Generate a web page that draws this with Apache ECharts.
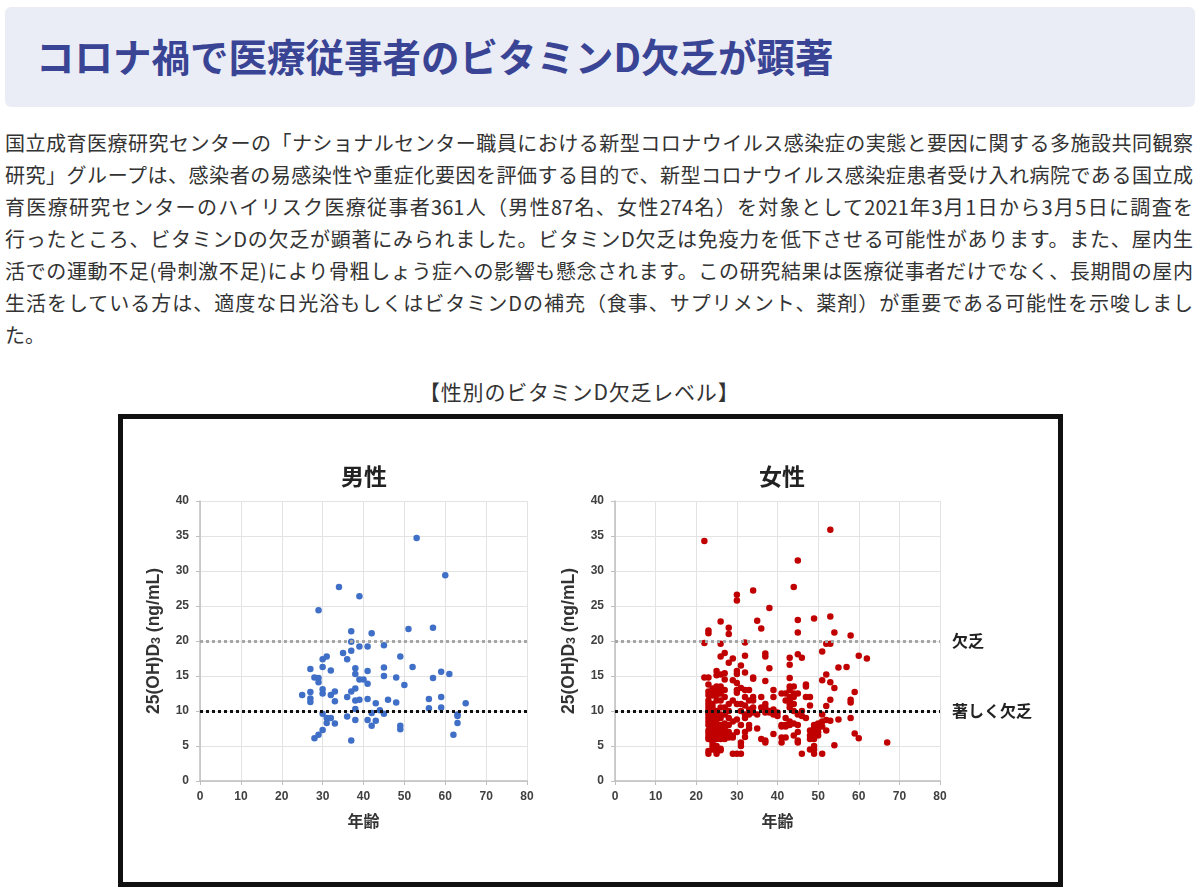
<!DOCTYPE html>
<html lang="ja">
<head>
<meta charset="utf-8">
<title>コロナ禍で医療従事者のビタミンD欠乏が顕著</title>
<script src="https://cdn.jsdelivr.net/npm/echarts@6.0.0/dist/echarts.min.js"></script>
<style>
html,body{margin:0;padding:0;background:#fff;}
body{width:1200px;height:896px;position:relative;overflow:hidden;font-family:"Noto Sans CJK JP","Noto Sans",sans-serif;color:#333;}
.head{position:absolute;left:5px;top:7px;width:1190px;height:100px;background:#eaecf6;border-radius:6px;}
.head h1{margin:0;position:absolute;left:31px;top:0;line-height:96px;font-size:38.5px;font-weight:bold;color:#3a4495;}
.txt{position:absolute;left:5px;top:127px;width:1188px;font-size:20px;line-height:32px;}
.txt div{text-align:justify;text-align-last:justify;}
.txt div.last{text-align-last:left;}
.cap{position:absolute;left:419px;top:375px;font-size:21px;letter-spacing:0.8px;line-height:32px;}
.frame{position:absolute;left:118px;top:414px;width:945px;height:473px;box-sizing:border-box;border:5px solid #111;}
#main{position:absolute;left:0;top:0;width:1200px;height:896px;}
</style>
</head>
<body>
<div class="head"><h1>コロナ禍で医療従事者のビタミンD欠乏が顕著</h1></div>
<div class="txt">
<div>国立成育医療研究センターの「ナショナルセンター職員における新型コロナウイルス感染症の実態と要因に関する多施設共同観察</div>
<div>研究」グループは、感染者の易感染性や重症化要因を評価する目的で、新型コロナウイルス感染症患者受け入れ病院である国立成</div>
<div>育医療研究センターのハイリスク医療従事者361人（男性87名、女性274名）を対象として2021年3月1日から3月5日に調査を</div>
<div>行ったところ、ビタミンDの欠乏が顕著にみられました。ビタミンD欠乏は免疫力を低下させる可能性があります。また、屋内生</div>
<div>活での運動不足(骨刺激不足)により骨粗しょう症への影響も懸念されます。この研究結果は医療従事者だけでなく、長期間の屋内</div>
<div>生活をしている方は、適度な日光浴もしくはビタミンDの補充（食事、サプリメント、薬剤）が重要である可能性を示唆しまし</div>
<div class="last">た。</div>
</div>
<div class="cap">【性別のビタミンD欠乏レベル】</div>
<div class="frame"></div>
<div id="main"></div>
<script>
// 男性 [年齢, 25(OH)D3]
var malePoints = [
  [53,34.7],[60,29.4],[34,27.7],[39,26.4],[29,24.4],[51,21.7],[57,21.9],[37,21.4],[42,21.1],
  [37,19.9],[39,19.2],[41,19.2],[45,19.4],[35,18.3],[37,18.6],[36,17.4],[30,17.4],[31,17.8],
  [49,17.8],[27,16.0],[30,16.3],[32,15.8],[38,16.1],[45,16.2],[52,16.3],[38,15.3],[41,15.7],
  [28,14.8],[29,14.7],[29,14.1],[39,14.5],[40,14.5],[45,15.0],[48,14.8],[57,14.7],[59,15.6],
  [61,15.3],[41,13.9],[50,13.7],[30,13.1],[27,12.7],[25,12.3],[30,12.5],[33,12.8],[32,12.3],
  [37,12.8],[38,13.2],[36,12.0],[27,11.8],[27,11.3],[33,11.4],[38,11.5],[39,11.6],[41,11.7],
  [43,11.1],[46,11.6],[48,11.2],[56,11.7],[59,12.0],[65,11.1],[38,10.3],[56,10.4],[59,10.5],
  [30,9.6],[42,9.7],[44,10.1],[45,9.6],[63,9.5],[63,9.3],[31,9.0],[32,9.0],[36,9.2],
  [38,8.7],[41,8.7],[43,8.6],[31,8.3],[33,8.2],[63,8.3],[42,7.9],[49,7.9],[49,7.4],
  [30,7.3],[29,6.6],[28,6.1],[62,6.6],[37,5.8]
];
// 女性 [年齢, 25(OH)D3]
var femalePoints = [
  [22,34.3],[22,19.7],[22,14.8],
  [23,21.5],[23,21.1],[23,14.8],[23,13.8],[23,12.8],[23,12.3],[23,11.5],[23,11.0],[23,10.5],[23,10.0],
  [23,9.5],[23,9.0],[23,8.5],[23,8.0],[23,7.2],[23,6.8],[23,6.3],[23,6.0],[23,4.3],[23,3.9],
  [24,13.2],[24,12.8],[24,12.2],[24,11.0],[24,10.5],[24,9.5],[24,9.0],[24,8.5],[24,8.0],[24,7.5],
  [24,7.0],[24,6.5],[24,6.0],[24,5.5],[24,5.0],[24,4.5],
  [25,15.7],[25,15.1],[25,13.5],[25,12.8],[25,12.3],[25,11.5],[25,10.0],[25,9.2],[25,8.7],[25,8.0],
  [25,7.2],[25,6.5],[25,6.0],[25,5.0],[25,4.2],[25,3.9],
  [26,22.8],[26,19.6],[26,17.8],[26,15.2],[26,13.5],[26,13.0],[26,12.5],[26,11.5],[26,10.5],[26,9.5],
  [26,9.0],[26,8.0],[26,7.5],[26,7.0],[26,6.5],[26,6.0],[26,4.6],[26,4.4],
  [27,18.3],[27,15.4],[27,14.5],[27,13.0],[27,12.0],[27,10.5],[27,9.5],[27,8.2],[27,7.5],[27,7.0],[27,6.5],[27,6.0],
  [28,21.9],[28,21.0],[28,16.9],[28,11.0],[28,10.0],[28,9.0],[28,8.0],[28,7.0],[28,6.5],[28,6.2],
  [29,17.5],[29,14.4],[29,11.5],[29,8.5],[29,6.5],[29,6.2],[29,3.9],
  [30,26.6],[30,25.8],[30,15.7],[30,15.3],[30,14.0],[30,13.0],[30,12.6],[30,11.0],[30,8.8],[30,7.0],[30,3.9],
  [31,16.5],[31,13.3],[31,11.0],[31,10.0],[31,8.0],[31,5.5],[31,5.0],[31,3.9],
  [32,19.8],[32,17.9],[32,15.5],[32,13.0],[32,12.0],[32,10.8],[32,9.5],[32,9.0],[32,7.0],[32,6.3],
  [33,13.0],[33,11.5],[33,10.2],[33,9.5],[33,8.0],[33,7.5],
  [34,27.2],[34,14.8],[34,14.6],[34,12.0],[34,11.5],[34,10.5],[34,9.8],
  [35,22.9],[35,9.5],[35,7.5],
  [36,21.8],[36,12.0],[36,10.5],[36,6.0],
  [37,18.2],[37,17.8],[37,14.3],[37,11.0],[37,10.5],[37,9.8],[37,5.8],[37,5.5],
  [38,24.7],[38,16.1],[38,10.0],[38,9.8],
  [39,13.0],[39,12.0],[39,10.2],[39,9.5],[39,6.7],
  [40,9.8],[40,9.3],
  [41,12.5],[41,8.0],[41,7.8],[41,6.2],[41,5.5],
  [42,12.5],[42,11.5],[42,9.0],[42,8.0],[42,7.8],[42,6.2],
  [43,17.6],[43,16.6],[43,14.7],[43,13.5],[43,13.0],[43,12.0],[43,11.5],[43,11.0],[43,10.5],[43,8.5],[43,8.0],
  [44,27.7],[44,13.5],[44,12.5],[44,12.0],[44,11.0],[44,10.0],[44,8.2],[44,6.5],
  [45,31.5],[45,23.0],[45,21.2],[45,18.1],[45,12.5],[45,9.5],[45,8.0],[45,7.0],[45,5.8],[45,5.5],
  [46,17.6],[46,10.0],[46,9.3],[46,3.9],
  [47,13.8],[47,13.5],[47,12.0],[47,9.0],
  [48,12.0],[48,10.8],[48,7.2],[48,6.5],[48,6.0],[48,4.5],
  [49,23.2],[49,8.0],[49,7.5],[49,7.0],[49,6.5],[49,6.0],[49,5.0],[49,4.5],[49,3.9],
  [50,8.2],[50,7.8],[50,7.5],[50,7.0],[50,6.5],
  [51,18.5],[51,14.4],[51,9.5],[51,8.5],[51,7.8],[51,3.9],
  [52,19.6],[52,15.2],[52,10.7],[52,8.7],[52,7.2],
  [53,35.9],[53,23.5],[53,19.6],[53,14.1],[53,11.6],[53,8.6],
  [54,21.2],[54,13.3],[54,5.1],
  [55,16.2],[55,8.8],
  [57,16.3],
  [58,20.8],[58,11.6],[58,11.2],[58,9.0],
  [59,12.7],[59,6.8],
  [60,17.9],[60,6.1],
  [62,17.5],
  [67,5.5]
];
var panelTitles = ['男性', '女性'];
var thresholds = [20, 10];
var thresholdLabels = ['欠乏', '著しく欠乏'];

var myChart = echarts.init(document.getElementById('main'));

var axisTxt = {color:'#404040', fontSize:12, fontWeight:'bold', fontFamily:'"Liberation Sans", Arial, sans-serif'};
var nameTxt = {color:'#333', fontSize:16, fontWeight:'bold', fontFamily:'"Liberation Sans", "Noto Sans CJK JP", sans-serif'};

function xAx(i){
  return {
    gridIndex:i, type:'value', min:0, max:80, interval:10,
    name:'年齢', nameLocation:'middle', nameGap:32,
    nameTextStyle:Object.assign({}, nameTxt, {fontFamily:'"Noto Sans CJK JP", sans-serif'}),
    axisLine:{show:true, lineStyle:{color:'#bfbfbf', width:1.5}},
    axisTick:{show:true, length:4, lineStyle:{color:'#bfbfbf'}},
    axisLabel:Object.assign({margin:10}, axisTxt),
    splitLine:{show:true, lineStyle:{color:'#e3e3e3'}}
  };
}
function yAx(i){
  return {
    gridIndex:i, type:'value', min:0, max:40, interval:5,
    name:'25(OH)D{s|3} (ng/mL)', nameLocation:'middle', nameGap:37,
    nameTextStyle:Object.assign({}, nameTxt, {fontSize:17.5, rich:{
      s:{fontSize:12.5, fontWeight:'bold', color:'#333', fontFamily:'"Liberation Sans", sans-serif', padding:[5,0,0,0]}
    }}),
    axisLine:{show:true, lineStyle:{color:'#bfbfbf', width:1.5}},
    axisTick:{show:true, length:4, lineStyle:{color:'#bfbfbf'}},
    axisLabel:Object.assign({margin:11}, axisTxt),
    splitLine:{show:true, lineStyle:{color:'#e3e3e3'}}
  };
}
function lines(withLabel){
  var cols = ['#a6a6a6', '#111111'];
  return {
    silent:true, symbol:'none', animation:false,
    lineStyle:{type:[3,3], width:3},
    data: thresholds.map(function(t, k){
      return {
        yAxis:t, lineStyle:{color:cols[k]},
        label:{show:withLabel, formatter:thresholdLabels[k], position:'end', distance:12,
          color:'#222', fontSize:16, fontWeight:'bold', fontFamily:'"Noto Sans CJK JP", sans-serif'}
      };
    })
  };
}

var option = {
  animation:false,
  grid:[
    {left:200, top:501, width:327, height:280},
    {left:615, top:501, width:325, height:280}
  ],
  graphic:[
    {type:'text', x:364, y:476, style:{text:panelTitles[0], textAlign:'center', textVerticalAlign:'middle', fill:'#222', font:'bold 23px "Noto Sans CJK JP"'}},
    {type:'text', x:782, y:476, style:{text:panelTitles[1], textAlign:'center', textVerticalAlign:'middle', fill:'#222', font:'bold 23px "Noto Sans CJK JP"'}}
  ],
  xAxis:[xAx(0), xAx(1)],
  yAxis:[yAx(0), yAx(1)],
  series:[
    {name:panelTitles[0], type:'scatter', xAxisIndex:0, yAxisIndex:0, symbolSize:6.5,
     itemStyle:{color:'#3f6fc6', opacity:1}, data:malePoints, markLine:lines(false)},
    {name:panelTitles[1], type:'scatter', xAxisIndex:1, yAxisIndex:1, symbolSize:6.5,
     itemStyle:{color:'#c00000', opacity:1}, data:femalePoints, markLine:lines(true)}
  ]
};
myChart.setOption(option);
</script>
</body>
</html>
